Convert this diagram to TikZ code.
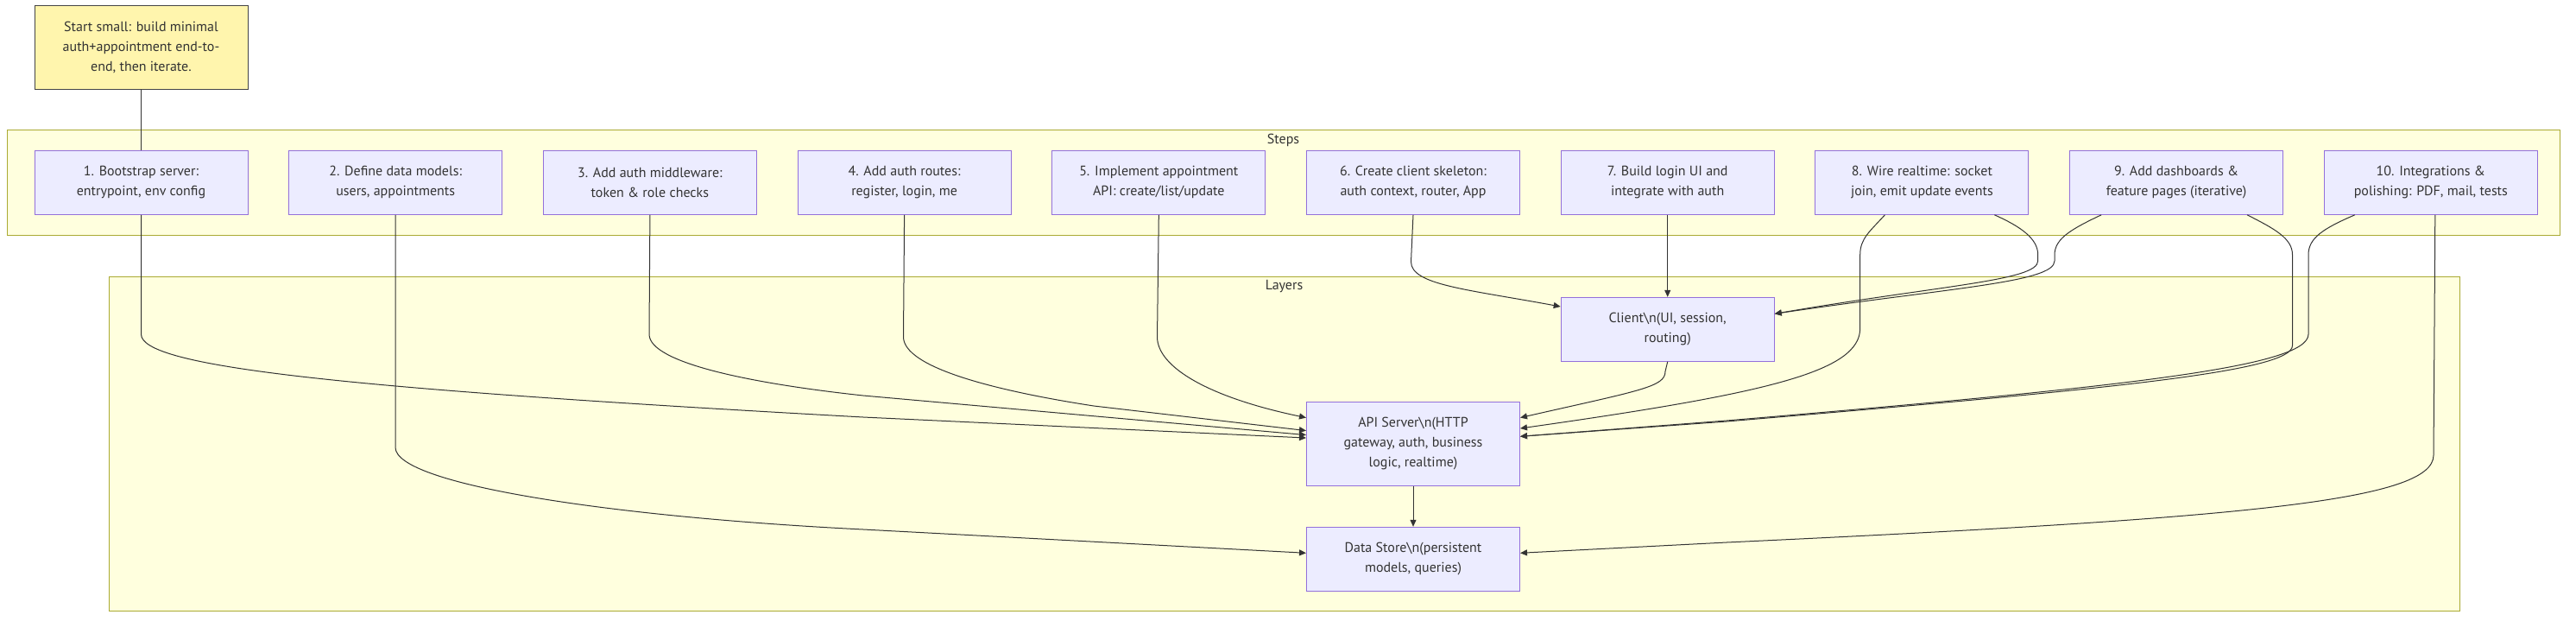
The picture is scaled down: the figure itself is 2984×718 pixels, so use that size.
\documentclass[tikz,border=0pt]{standalone}
\usepackage{fontspec}
\setmainfont{PT Sans}
\usetikzlibrary{arrows.meta, positioning}

\definecolor{nodefill}{HTML}{ECECFF}
\definecolor{nodeline}{HTML}{9370DB}
\definecolor{clusfill}{HTML}{FFFFDE}
\definecolor{clusline}{HTML}{AAAA33}
\definecolor{notefill}{HTML}{FFF5AD}
\definecolor{noteline}{HTML}{444444}
\definecolor{inkgray}{HTML}{333333}

\begin{document}
\begin{tikzpicture}[x=1pt, y=1pt]
      \tikzstyle{stepbox}=[rectangle, draw=nodeline, fill=nodefill, line width=1pt, inner sep=0pt, minimum width=247pt, minimum height=74pt, align=center, text=inkgray, font=\fontsize{16}{23}\selectfont]
      \tikzstyle{notebox}=[stepbox, draw=noteline, fill=notefill, minimum height=97pt]
      \tikzstyle{cluster}=[draw=clusline, fill=clusfill, line width=1pt]
      \tikzstyle{clusterlabel}=[text=inkgray, inner sep=0pt, font=\fontsize{16}{23}\selectfont]
      \tikzstyle{flow}=[draw=inkgray, line width=1pt, -{Triangle[length=8pt, width=7pt]}]
      \tikzstyle{link}=[draw=inkgray, line width=1pt]
      \useasboundingbox (0,0) rectangle (2984,-718);
      \draw[cluster] (8,-150) rectangle (2965,-272);
      \node[clusterlabel] (stepslbl) at (1486.5,-162) {Steps};
      \draw[cluster] (126,-320) rectangle (2849,-707);
      \node[clusterlabel] (layerslbl) at (1487.5,-332) {Layers};
      \node[stepbox] (s1) at (163.5,-211.3) {1. Bootstrap server:\\entrypoint, env config};
      \node[stepbox, right=46.7pt of s1] (s2) {2. Define data models:\\users, appointments};
      \node[stepbox, right=46.7pt of s2] (s3) {3. Add auth middleware:\\token \& role checks};
      \node[stepbox, right=46.7pt of s3] (s4) {4. Add auth routes:\\register, login, me};
      \node[stepbox, right=46.7pt of s4] (s5) {5. Implement appointment\\API: create/list/update};
      \node[stepbox, right=46.7pt of s5] (s6) {6. Create client skeleton:\\auth context, router, App};
      \node[stepbox, right=46.7pt of s6] (s7) {7. Build login UI and\\integrate with auth};
      \node[stepbox, right=46.7pt of s7] (s8) {8. Wire realtime: socket\\join, emit update events};
      \node[stepbox, right=46.7pt of s8] (s9) {9. Add dashboards \&\\feature pages (iterative)};
      \node[stepbox, right=46.7pt of s9] (s10) {10. Integrations \&\\polishing: PDF, mail, tests};
      \node[notebox, above=70pt of s1] (note) {Start small: build minimal\\auth+appointment end-to-\\end, then iterate.};
      \node[stepbox, below=95pt of s7] (client) {Client\textbackslash n(UI, session,\\routing)};
      \node[stepbox, minimum height=97pt, anchor=north] (api) at ([yshift=-46pt]client.south -| s6.south) {API Server\textbackslash n(HTTP\\gateway, auth, business\\logic, realtime)};
      \node[stepbox, below=47pt of api] (data) {Data Store\textbackslash n(persistent\\models, queries)};
      \draw[link] (note.south) -- (s1.north);
      \draw[flow] (s1.south) -- (163.5,-387) .. controls (163.5,-425) and (400,-450) .. (1000,-483) -- ([yshift=6.8pt]api.west);
      \draw[flow] (s2.south) -- (458,-518) .. controls (458,-560) and (700,-598) .. (1000,-613) -- ([yshift=7pt]data.west);
      \draw[flow] (s3.south) -- (752,-387) .. controls (752,-420) and (870,-444) .. (1000,-458) -- ([yshift=10.2pt]api.west);
      \draw[flow] (s4.south) -- (1046.5,-390) .. controls (1046.5,-425) and (1150,-452) .. (1267,-470) -- ([yshift=15.2pt]api.west);
      \draw[flow] (s5.south) -- (1340.5,-390) .. controls (1340.5,-425) and (1400,-460) .. ([yshift=30.2pt]api.west);
      \draw[flow] (s6.south) -- (1634.5,-303) .. controls (1634.5,-330) and (1700,-335) .. ([yshift=26.3pt]client.west);
      \draw[flow] (s7.south) -- (client.north);
      \draw[flow] ([xshift=-43pt]s8.south) .. controls (2166,-268) and (2154.7,-276) .. (2154.7,-295) -- (2154.7,-380) .. controls (2154.7,-430) and (2050,-455) .. ([yshift=17.8pt]api.east);
      \draw[flow] ([xshift=84pt]s8.south) .. controls (2340,-262) and (2360.7,-276) .. (2360.7,-295) -- (2360.7,-302) .. controls (2360.7,-325) and (2250,-330) .. ([yshift=18pt]client.east);
      \draw[flow] ([xshift=-87pt]s9.south) .. controls (2400,-265) and (2380,-276) .. (2380,-295) -- (2380,-302) .. controls (2380,-327) and (2260,-333) .. ([yshift=18pt]client.east);
      \draw[flow] ([xshift=82pt]s9.south) .. controls (2635,-265) and (2655.5,-276) .. (2655.5,-295) -- (2655.5,-400) .. controls (2655.5,-430) and (2450,-450) .. (2000,-488) -- ([yshift=8.5pt]api.east);
      \draw[flow] ([xshift=-88pt]s10.south) .. controls (2690,-265) and (2674,-276) .. (2674,-295) -- (2674,-387) .. controls (2674,-425) and (2460,-448) .. (2000,-487) -- ([yshift=8.5pt]api.east);
      \draw[flow] ([xshift=5pt]s10.south) -- (2819,-527) .. controls (2819,-580) and (2600,-600) .. (2000,-628) -- ([yshift=7pt]data.east);
      \draw[flow] (client.south) -- (1929,-430) .. controls (1929,-448) and (1900,-452) .. ([yshift=30.2pt]api.east);
      \draw[flow] (api.south) -- (data.north);
  \end{tikzpicture}
\end{document}
